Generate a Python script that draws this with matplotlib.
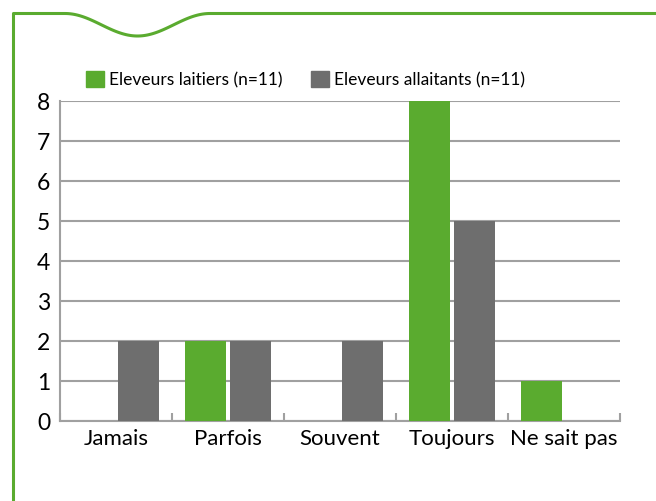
import numpy as np
import matplotlib.pyplot as plt
from matplotlib.lines import Line2D
from matplotlib.patches import Patch

categories = ["Jamais", "Parfois", "Souvent", "Toujours", "Ne sait pas"]
laitiers = [0, 2, 0, 8, 1]
allaitants = [2, 2, 2, 5, 0]
series_names = ["Eleveurs laitiers (n=11)", "Eleveurs allaitants (n=11)"]

GREEN = "#5aab2f"
GREY = "#6e6e6e"
GRID = "#a0a0a0"

plt.rcParams["font.family"] = ["Lato", "DejaVu Sans"]

W, H = 656, 502
fig = plt.figure(figsize=(W / 100, H / 100), dpi=100)

# green frame with the wave on top (figure pixel coords)
def px(x, y):
    return x / W, 1 - y / H

xw = np.linspace(65, 210, 80)
yw = 14.5 + 11.25 * (1 - np.cos(2 * np.pi * (xw - 65) / 145))
fx = np.concatenate([[13.5, 13.5], xw, [W]])
fy = np.concatenate([[H, 14.5], yw, [14.5]])
pts = [px(a, b) for a, b in zip(fx, fy)]
fig.add_artist(Line2D([p[0] for p in pts], [p[1] for p in pts],
                      transform=fig.transFigure, color=GREEN, lw=2.2))

ax = fig.add_axes([60 / W, 1 - 422 / H, (620 - 60) / W, (422 - 102) / H])

x = np.arange(len(categories))
w = 0.366
off = 0.2
ax.bar(x - off, laitiers, width=w, color=GREEN, zorder=3)
ax.bar(x + off, allaitants, width=w, color=GREY, zorder=3)

ax.set_xlim(-0.5, len(categories) - 0.5)
ax.set_ylim(0, 8)
ax.set_yticks(range(0, 9))
ax.yaxis.grid(True, color=GRID, lw=1.5, zorder=1)
ax.set_axisbelow(True)

ax.set_xticks(x)
ax.set_xticklabels(categories, fontsize=16)
ax.tick_params(axis="x", length=0, pad=5)
ax.tick_params(axis="y", length=0, pad=7, labelsize=16.5)
# boundary ticks pointing up
ax.set_xticks(np.arange(-0.5, len(categories)), minor=True)
ax.tick_params(axis="x", which="minor", direction="in", length=6, width=1.5, color=GRID)

for s in ["top", "right"]:
    ax.spines[s].set_visible(False)
for s in ["left", "bottom"]:
    ax.spines[s].set_color(GRID)
    ax.spines[s].set_linewidth(1.5)

handles = [Patch(color=GREEN), Patch(color=GREY)]
fig.legend(handles, series_names, loc="center left",
           bbox_to_anchor=(86 / W, 1 - 80 / H), ncol=2, frameon=False,
           fontsize=12.5, handlelength=1.05, handleheight=1.05,
           handletextpad=0.3, columnspacing=1.6, borderaxespad=0,
           borderpad=0)

fig.savefig("out.png", dpi=100)
